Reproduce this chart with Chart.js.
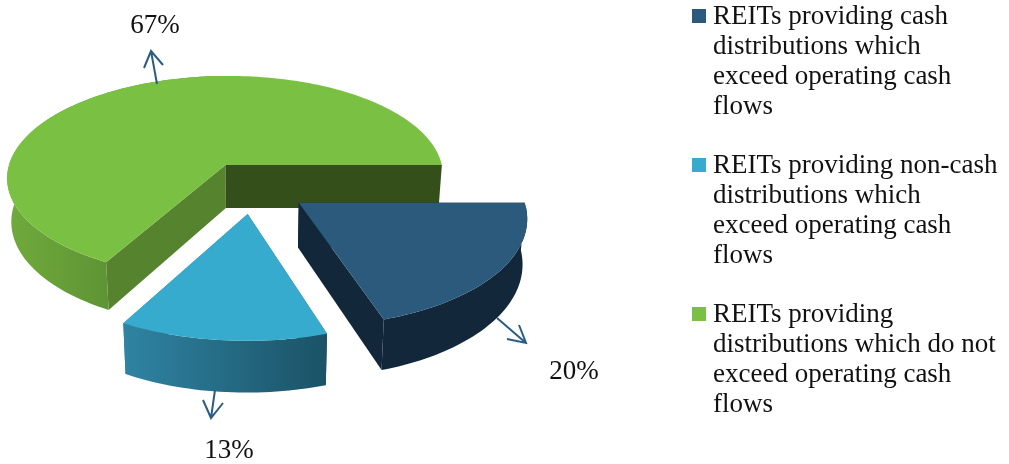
<!DOCTYPE html>
<html>
<head>
<meta charset="utf-8">
<script src="https://cdn.jsdelivr.net/npm/chart.js@4"></script>
<style>
  html, body { margin: 0; background: #fff; }
  #wrap { position: relative; width: 1009px; height: 464px; overflow: hidden; }
  #legend { position: absolute; left: 692px; top: 0; width: 317px; font: 27px/29.9px "Liberation Serif", serif; color: #111; }
  .item { position: absolute; left: 0; padding-left: 21px; width: 287px; }
  .swatch { position: absolute; left: 0; top: 8px; width: 14px; height: 14px; }
</style>
</head>
<body>
<div id="wrap">
  <canvas id="pie" width="1009" height="464"></canvas>
  <div id="legend"></div>
</div>
<script>
// -------------------- DATA --------------------
const categories = [
  "REITs providing cash distributions which exceed operating cash flows",
  "REITs providing non-cash distributions which exceed operating cash flows",
  "REITs providing distributions which do not exceed operating cash flows",
];
const values = [20, 13, 67];

// -------------------- STYLE --------------------
const topColors = ["#2c5a7c", "#36abce", "#7ac143"];
const wallColors = [["#12283a", "#12283a"], ["#2f84a3", "#1b5266"], ["#70ab3c", "#5f9434"]];
const faceColors = [["#12283a", "#12283a"], ["#1b5266", "#2f84a3"], ["#56842e", "#344f1a"]];
const legendTops = [1, 150, 299];
const labelSpots = [[574, 379], [229, 458], [155, 33]];
const arrows = [
  [[497, 318], [526, 343], [507, 339], [519, 325]],
  [[215, 390], [211, 418], [203, 400], [223, 403]],
  [[157, 84], [151, 51], [144, 68], [163, 65]],
];

// how the flat pie is tilted into perspective
const spreadX = 222, spreadY = 104.7, persp = 0.12, depth = 44, taper = 0.983;
const explode = 41.6;

function project(arc, u, v, lower) {
  const w = 1 - persp * v;
  let x = (u * spreadX) / w;
  let y = (v * spreadY) / w;
  if (lower) { x *= taper; y += depth / w; }
  return [arc.x + x, arc.y + y];
}

function pathFrom(ctx, pts, fill) {
  ctx.beginPath();
  pts.forEach((p, i) => (i ? ctx.lineTo(p[0], p[1]) : ctx.moveTo(p[0], p[1])));
  ctx.closePath();
  ctx.fillStyle = fill;
  ctx.fill();
}

function sideGradient(ctx, pts, stops) {
  const xs = pts.map((p) => p[0]);
  const g = ctx.createLinearGradient(Math.min(...xs), 0, Math.max(...xs), 0);
  g.addColorStop(0, stops[0]);
  g.addColorStop(1, stops[1]);
  return g;
}

function drawSlice(ctx, arc, i) {
  const e = explode / arc.outerRadius;
  const mid = (arc.startAngle + arc.endAngle) / 2;
  const u0 = Math.cos(mid) * e, v0 = Math.sin(mid) * e;
  const angles = [];
  const steps = Math.ceil((arc.endAngle - arc.startAngle) * 40);
  for (let s = 0; s <= steps; s++) angles.push(arc.startAngle + ((arc.endAngle - arc.startAngle) * s) / steps);

  const rim = (a, lower) => project(arc, u0 + Math.cos(a), v0 + Math.sin(a), lower);
  const hubTop = project(arc, u0, v0, false);
  const hubLow = project(arc, u0, v0, true);
  const first = angles[0], last = angles[angles.length - 1];

  // cut faces first, the wall over them, then the top covers whatever is hidden
  pathFrom(ctx, [hubTop, rim(first, false), rim(first, true), hubLow], faceColors[i][0]);
  pathFrom(ctx, [hubTop, rim(last, false), rim(last, true), hubLow], faceColors[i][1]);

  // the back right of the wall faces away from the viewer
  const wallAngles = angles.filter((a) => Math.sin(a) > 0 || Math.cos(a) < 0);
  const wallTop = wallAngles.map((a) => rim(a, false));
  const wallLow = wallAngles.map((a) => rim(a, true));
  const front = angles.filter((a) => Math.sin(a) > 0).map((a) => rim(a, false));
  pathFrom(ctx, wallTop.concat(wallLow.reverse()), sideGradient(ctx, front, wallColors[i]));

  pathFrom(ctx, [hubTop].concat(angles.map((a) => rim(a, false))), topColors[i]);
}

const tiltedPie = {
  id: "tiltedPie",
  beforeDatasetsDraw(chart) {
    const ctx = chart.ctx;
    const arcs = chart.getDatasetMeta(0).data;
    ctx.save();
    [2, 1, 0].forEach((i) => drawSlice(ctx, arcs[i], i));
    ctx.restore();
    return false;
  },
  afterDraw(chart) {
    const ctx = chart.ctx;
    ctx.save();
    ctx.strokeStyle = "#2a5d85";
    ctx.lineWidth = 2;
    arrows.forEach(([tail, tip, b1, b2]) => {
      ctx.beginPath();
      ctx.moveTo(tail[0], tail[1]);
      ctx.lineTo(tip[0], tip[1]);
      ctx.moveTo(b1[0], b1[1]);
      ctx.lineTo(tip[0], tip[1]);
      ctx.lineTo(b2[0], b2[1]);
      ctx.stroke();
    });
    ctx.fillStyle = "#111";
    ctx.font = '27px "Liberation Serif", serif';
    ctx.textAlign = "center";
    values.forEach((v, i) => ctx.fillText(v + "%", labelSpots[i][0], labelSpots[i][1]));
    ctx.restore();
  },
};

new Chart(document.getElementById("pie"), {
  type: "pie",
  data: {
    labels: categories,
    datasets: [{ data: values, backgroundColor: topColors, offset: explode, borderWidth: 0 }],
  },
  options: {
    responsive: false,
    animation: false,
    rotation: 90,
    layout: { padding: { right: 503, bottom: 90 } },
    plugins: { legend: { display: false }, tooltip: { enabled: false } },
  },
  plugins: [tiltedPie],
});

// -------------------- LEGEND --------------------
const legend = document.getElementById("legend");
categories.forEach((name, i) => {
  const item = document.createElement("div");
  item.className = "item";
  item.style.top = legendTops[i] + "px";
  item.innerHTML = `<span class="swatch" style="background:${topColors[i]}"></span>${name}`;
  legend.appendChild(item);
});
</script>
</body>
</html>
